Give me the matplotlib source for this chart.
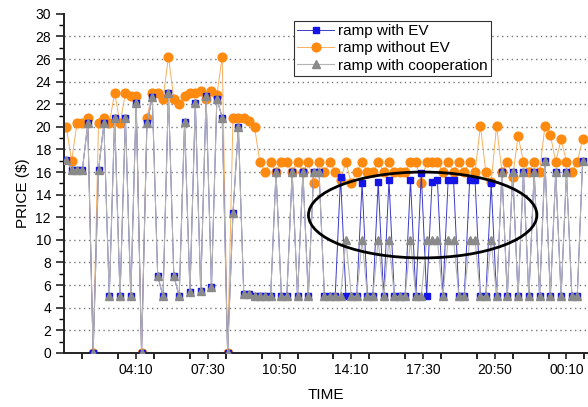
import numpy as np
import matplotlib
matplotlib.use("Agg")
import matplotlib.pyplot as plt
from matplotlib.patches import Ellipse
from matplotlib.ticker import MultipleLocator

plt.rcParams['font.family'] = ['Liberation Sans', 'DejaVu Sans']

# 15-minute samples starting at 00:55
start_min = 55
step_min = 15

price_without_ev = [
    20.0, 17.0, 20.3, 20.3, 20.8, 0.0, 20.3, 20.8, 20.3, 23.0,
    20.3, 23.0, 22.7, 22.7, 0.0, 20.8, 23.0, 23.0, 22.5, 26.2,
    22.5, 22.0, 22.7, 23.0, 23.0, 23.2, 22.5, 23.2, 22.8, 26.2,
    0.0, 20.8, 20.8, 20.8, 20.5, 20.0, 16.9, 16.0, 16.9, 16.0,
    16.9, 16.9, 16.0, 16.9, 16.0, 16.9, 15.0, 16.9, 16.0, 16.9,
    16.0, 15.3, 16.9, 15.0, 16.0, 16.9, 16.0, 16.0, 16.9, 16.0,
    16.9, 16.0, 16.0, 16.0, 16.9, 16.9, 15.0, 16.9, 16.9, 16.9,
    16.0, 16.9, 16.0, 16.9, 16.0, 16.9, 16.0, 20.1, 16.0, 15.1,
    20.1, 16.0, 16.9, 15.6, 19.2, 16.9, 16.0, 16.9, 16.0, 20.1,
    19.3, 16.9, 18.9, 16.9, 16.0, 16.9, 18.9,
]

price_with_coop = [
    17.1, 16.2, 16.2, 16.2, 20.3, 0.0, 16.2, 20.3, 5.0, 20.8,
    5.0, 20.8, 5.0, 22.1, 0.0, 20.3, 22.6, 6.8, 5.0, 23.0,
    6.8, 5.0, 20.4, 5.4, 22.1, 5.5, 22.7, 5.8, 22.5, 20.8,
    0.0, 12.4, 20.0, 5.2, 5.2, 5.0, 5.0, 5.0, 5.0, 16.0,
    5.0, 5.0, 16.0, 5.0, 16.0, 5.0, 16.0, 16.0, 5.0, 5.0,
    5.0, 5.0, 10.0, 5.0, 5.0, 10.0, 5.0, 5.0, 10.0, 5.0,
    10.0, 5.0, 5.0, 5.0, 10.0, 5.0, 5.0, 10.0, 10.0, 10.0,
    5.0, 10.0, 10.0, 5.0, 5.0, 10.0, 10.0, 5.0, 5.0, 10.0,
    5.0, 16.0, 5.0, 16.0, 5.0, 16.0, 5.0, 16.0, 5.0, 17.0,
    5.0, 16.0, 5.0, 16.0, 5.0, 5.0, 17.0,
]

price_with_ev = [
    17.1, 16.2, 16.2, 16.2, 20.3, 0.0, 16.2, 20.3, 5.0, 20.8,
    5.0, 20.8, 5.0, 22.1, 0.0, 20.3, 22.6, 6.8, 5.0, 23.0,
    6.8, 5.0, 20.4, 5.4, 22.1, 5.5, 22.7, 5.8, 22.5, 20.8,
    0.0, 12.4, 20.0, 5.2, 5.2, 5.0, 5.0, 5.0, 5.0, 16.0,
    5.0, 5.0, 16.0, 5.0, 16.0, 5.0, 16.0, 16.0, 5.0, 5.0,
    5.0, 15.6, 5.0, 5.0, 5.0, 15.0, 5.0, 5.0, 15.1, 5.0,
    15.3, 5.0, 5.0, 5.0, 15.3, 5.0, 15.9, 5.0, 15.1, 15.3,
    5.0, 15.3, 15.3, 5.0, 5.0, 15.3, 15.3, 5.0, 5.0, 15.0,
    5.0, 16.0, 5.0, 16.0, 5.0, 16.0, 5.0, 16.0, 5.0, 17.0,
    5.0, 16.0, 5.0, 16.0, 5.0, 5.0, 17.0,
]

tick_minutes = [250, 450, 650, 850, 1050, 1250, 1450]
tick_labels = ["04:10", "07:30", "10:50", "14:10", "17:30", "20:50", "00:10"]

t = start_min + step_min * np.arange(len(price_without_ev))

fig = plt.figure(figsize=(5.88, 4.07), dpi=100)
ax = fig.add_axes([0.109, 0.133, 0.891, 0.833])

ax.plot(t, price_without_ev, color="#f5b060", lw=0.7, marker="o", ms=6.3,
        mfc="#ff8a10", mec="#ff8a10", label="ramp without EV", zorder=2)
ax.plot(t, price_with_ev, color="#3a3ac8", lw=0.7, marker="s", ms=4.6,
        mfc="#1414e6", mec="#1414e6", label="ramp with EV", zorder=3)
ax.plot(t, price_with_coop, color="#b4b4b4", lw=0.8, marker="^", ms=5.6,
        mfc="#8a8a8a", mec="#8a8a8a", label="ramp with cooperation", zorder=4)

# highlight of the cooperation effect
ax.add_patch(Ellipse((1049, 12.2), 637, 7.6, fill=False, ec="black", lw=2, zorder=5))

ax.set_xlim(49, 1510)
ax.set_ylim(0, 30)
ax.set_xticks(tick_minutes)
ax.set_xticklabels(tick_labels)
ax.xaxis.set_minor_locator(MultipleLocator(100))
ax.yaxis.set_major_locator(MultipleLocator(2))
ax.yaxis.set_minor_locator(MultipleLocator(1))
ax.tick_params(axis="both", which="major", labelsize=10, direction="out", color="#222222")
ax.tick_params(axis="y", which="major", length=6, width=1.2)
ax.tick_params(axis="y", which="minor", length=3.5, width=1)
ax.tick_params(axis="x", which="both", length=4, width=1.2)

for y in range(2, 30, 2):
    ax.axhline(y, color="#777777", lw=1, ls=(0, (1, 2.5)), zorder=0)

for side in ["top", "right"]:
    ax.spines[side].set_visible(False)
for side in ["left", "bottom"]:
    ax.spines[side].set_linewidth(1.4)
    ax.spines[side].set_color("#222222")

ax.set_xlabel("TIME", fontsize=11, labelpad=8)
ax.set_ylabel("PRICE ($)", fontsize=11)
ax.yaxis.set_label_coords(-0.066, 0.472)

h, l = ax.get_legend_handles_labels()
order = [1, 0, 2]
leg = ax.legend([h[i] for i in order], [l[i] for i in order], loc="upper left",
                bbox_to_anchor=(0.438, 0.98), fontsize=11, fancybox=False,
                framealpha=1, edgecolor="#333333", handlelength=2.4,
                borderpad=0.25, labelspacing=0.2, handletextpad=0.25, borderaxespad=0)
leg.get_frame().set_linewidth(0.8)

fig.savefig("out.png", dpi=100)
